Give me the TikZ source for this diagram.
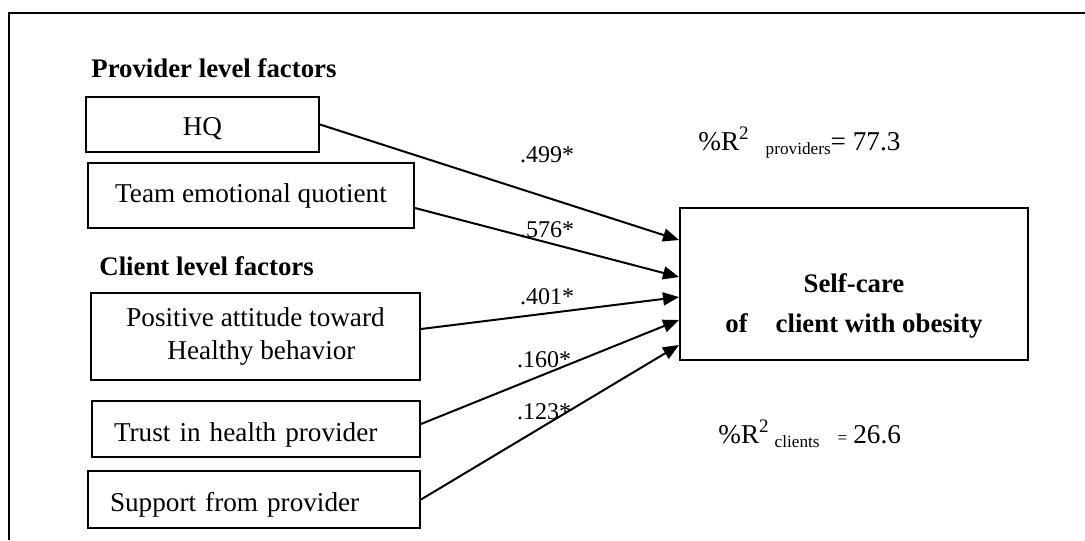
\documentclass[tikz,border=0pt]{standalone}
\usepackage{fontspec}
\setmainfont{Liberation Serif}
\usepackage{tikz}
\usetikzlibrary{positioning, arrows.meta}
\newcommand{\rsub}[1]{\raisebox{-2.2pt}{\fontsize{8.6}{10}\selectfont #1}}

\begin{document}
\begin{tikzpicture}
    [
        x=0.5pt, y=-0.5pt,
        factor_box/.style={rectangle, draw=black, line width=1pt, inner sep=0pt, font=\fontsize{13.6}{15}\selectfont},
        group_title/.style={anchor=base west, inner sep=0pt, font=\bfseries\fontsize{13.4}{15}\selectfont},
        coef/.style={inner sep=0pt, font=\fontsize{12}{14}\selectfont},
        rsq/.style={anchor=base west, inner sep=0pt, font=\fontsize{13.6}{15}\selectfont},
        path_arrow/.style={-{Triangle[length=8pt, width=6.5pt]}, line width=1pt},
    ]
        \useasboundingbox (0,0) rectangle (1085,540);
        \draw[line width=1pt] (9,540) |- (1085,13);
        \node[group_title] (provtitle) at (91,77) {Provider level factors};
        \node[factor_box, minimum width=116.5pt, minimum height=27.5pt, text height=14pt, text depth=3pt] (hq) at (202.5,124.5) {HQ};
        \node[factor_box, minimum width=163pt, minimum height=32.5pt] (team) at (251,195.5) {Team emotional quotient};
        \node[group_title] (clienttitle) at (99,275) {Client level factors};
        \node[factor_box, minimum width=164.5pt, minimum height=43.5pt, align=center] (attitude) at (255.5,336.5) {Positive attitude toward\\[1.5pt]\hspace*{6pt}Healthy behavior};
        \node[factor_box, minimum height=28pt, text width=142pt, inner xsep=11pt, align=left, text height=15pt, text depth=3pt] (trust) at (256,429) {Trust in health provider};
        \node[factor_box, minimum height=28.5pt, text width=144pt, inner xsep=11pt, align=left, text height=15pt, text depth=3pt] (support) at (254,499.5) {Support from provider};
        \node[factor_box, minimum width=174pt, minimum height=76pt] (selfcare) at (854,284) {};
        \node[inner sep=0pt, align=center, font=\bfseries\fontsize{13.4}{15}\selectfont] (selftext) at ([yshift=-11pt]selfcare.center) {Self-care\\[5pt]of\hspace*{14pt}client with obesity};
        \node[rsq] (rprov) at (698,150) {\%R\textsuperscript{2}\hspace{8pt}\rsub{providers}= 77.3};
        \node[rsq] (rclient) at (718,443) {\%R\textsuperscript{2}\hspace{2.5pt}\rsub{clients}\hspace{9pt}{\fontsize{8.6}{10}\selectfont=}\hspace{3pt}26.6};
        \draw[path_arrow] (hq.east) to ([yshift=22pt]selfcare.west) ;
        \draw[path_arrow] ([yshift=-6.25pt]team.east) to ([yshift=3.5pt]selfcare.west) ;
        \draw[path_arrow] ([yshift=3.75pt]attitude.east) to ([yshift=-6.5pt]selfcare.west) ;
        \draw[path_arrow] ([yshift=2.5pt]trust.east) to ([yshift=-18pt]selfcare.west) ;
        \draw[path_arrow] (support.east) to ([yshift=-30.5pt]selfcare.west) ;
        \node[coef] (c1) at (547,155) {.499*};
        \node[coef] (c2) at (547,230) {.576*};
        \node[coef] (c3) at (547,297) {.401*};
        \node[coef] (c4) at (544,360) {.160*};
        \node[coef] (c5) at (544,412) {.123*};
    \end{tikzpicture}
\end{document}
